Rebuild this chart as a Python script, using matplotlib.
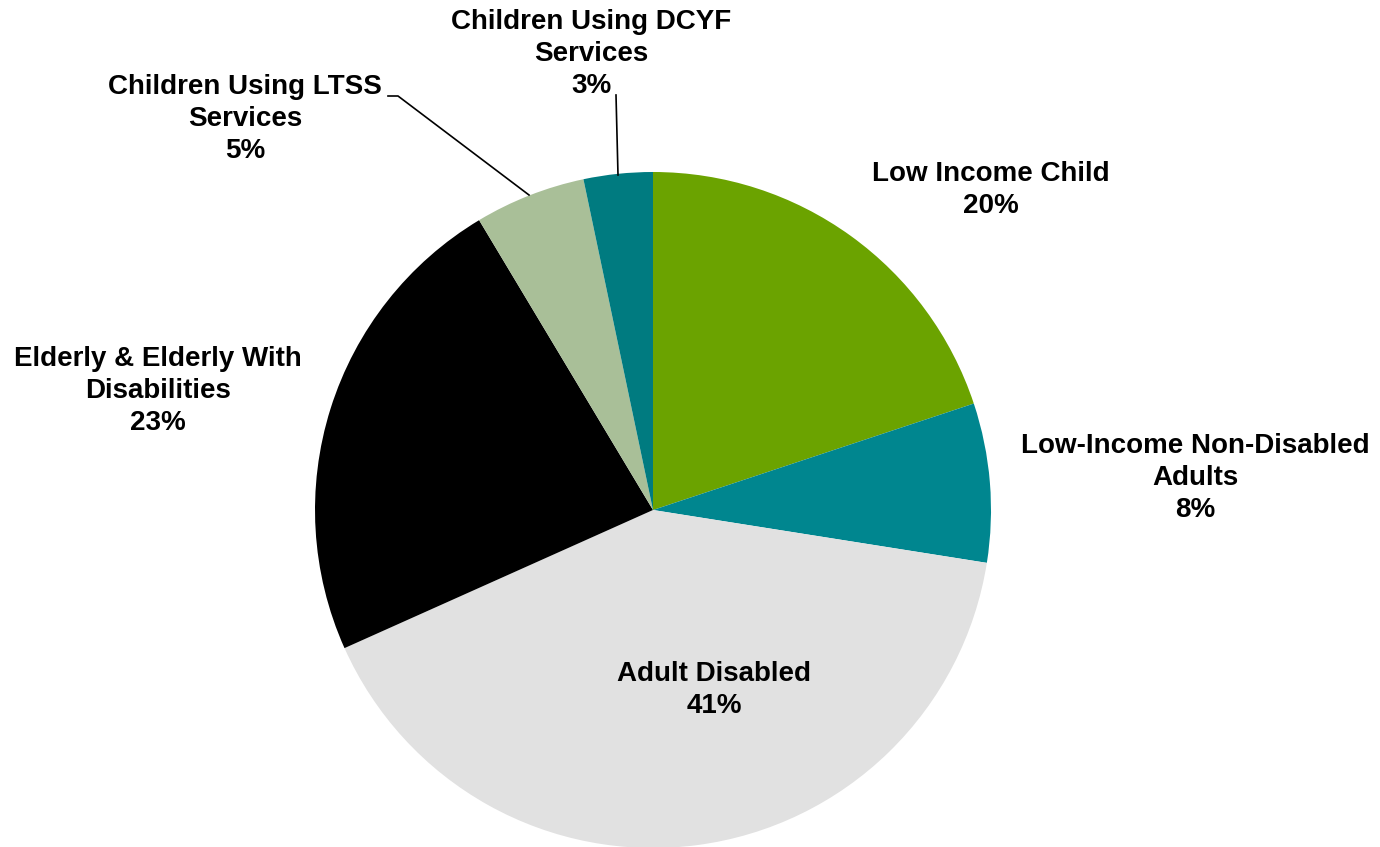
import matplotlib.pyplot as plt

plt.rcParams['font.family'] = ['Liberation Sans', 'DejaVu Sans']

categories = ['Low Income Child', 'Low-Income Non-Disabled\nAdults', 'Adult Disabled',
              'Elderly & Elderly With\nDisabilities', 'Children Using LTSS\nServices',
              'Children Using DCYF\nServices']
shares = [19.9, 7.6, 40.8, 23.1, 5.3, 3.3]
pct_labels = ['20%', '8%', '41%', '23%', '5%', '3%']
colors = ['#6BA300', '#00868F', '#E1E1E1', '#000000', '#A9BF98', '#007B80']

# label centres in pixel coords (y from bottom)
label_pos = [(991, 657), (1195, 369), (714, 157), (158, 456), (245, 728), (591, 793)]

fig = plt.figure(figsize=(13.8, 8.47), dpi=100)
ax = fig.add_axes([0, 0, 1, 1])

ax.pie(shares, colors=colors, startangle=90, counterclock=False,
       center=(653, 337), radius=338, wedgeprops=dict(linewidth=0))

# pie() resets the limits, so set them afterwards
ax.set_xlim(0, 1380)
ax.set_ylim(0, 847)
ax.set_aspect('equal')
ax.axis('off')

for cat, pct, (x, y) in zip(categories, pct_labels, label_pos):
    ax.text(x, y, f'{cat}\n{pct}', ha='center', va='center', fontsize=20,
            fontweight='bold', linespacing=1.32)

# leader lines
ax.plot([388, 398, 529], [751, 751, 652], color='black', lw=1.2)
ax.plot([616, 618], [752, 672], color='black', lw=1.2)

fig.savefig('out.png', dpi=100)
